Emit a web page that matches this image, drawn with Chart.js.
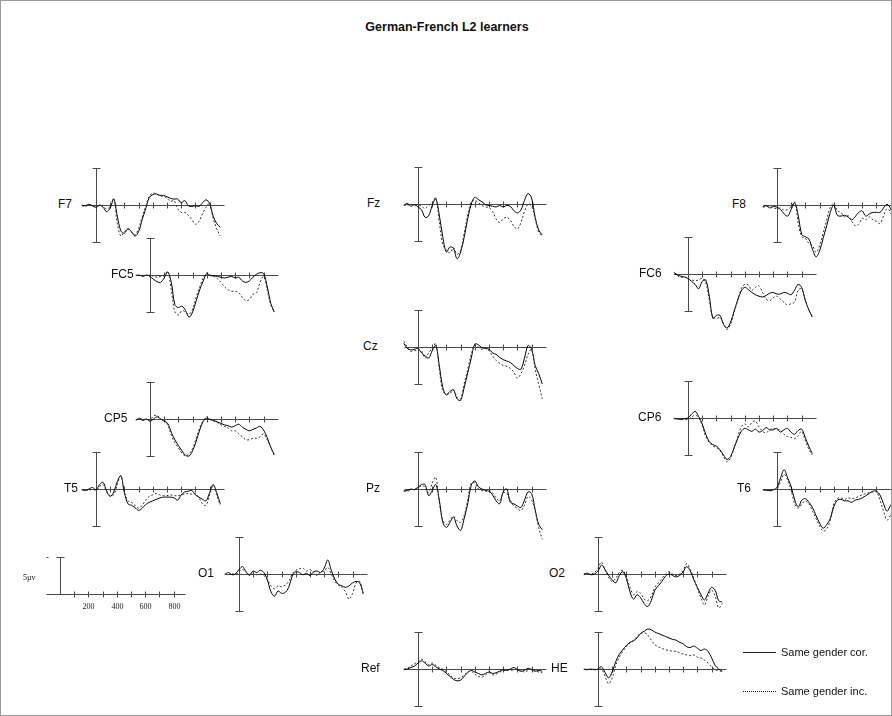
<!DOCTYPE html>
<html>
<head>
<meta charset="utf-8">
<script src="https://cdn.jsdelivr.net/npm/chart.js@4"></script>
<style>
  html, body { margin: 0; padding: 0; background: #fff; }
  #page { position: relative; width: 892px; height: 716px; overflow: hidden; box-sizing: border-box; border: 1px solid #9a9a9a; font-family: "Liberation Sans", Arial, sans-serif; color: #111; }
  #page canvas { position: absolute; }
  .title { position: absolute; left: 0; width: 892px; top: 19px; text-align: center; font-weight: bold; font-size: 12.5px; }
  .lbl { position: absolute; font-size: 12px; line-height: 14px; }
  .unit { position: absolute; font-family: "Liberation Serif", serif; font-size: 8px; }
  .leg { position: absolute; font-size: 11px; line-height: 12px; }
  .legLine { position: absolute; width: 33px; height: 0; }
</style>
</head>
<body>
<div id="page">
  <div class="title">German-French L2 learners</div>
</div>
<script>
// time points (ms) and µV values (negative plotted up)
const times = [-100,-75,-50,-25,0,25,50,75,100,125,150,175,200,225,250,275,300,325,350,375,400,425,450,475,500,525,550,575,600,625,650,675,700,725,750,775,800,825,850,875];

const f7Cor = [0,0.1,-0.1,0.1,0.3,0,0.3,0.9,0.4,-0.8,1.5,3.5,3.8,3.2,3.6,4.2,3.6,2.0,0.5,-1.0,-1.4,-1.5,-1.3,-1.3,-1.1,-0.9,-0.8,-0.8,-0.3,-0.6,0.1,0.2,0.1,0.2,-0.3,-0.7,-0.2,1.5,2.5,3.0];
const f7Inc = [0.1,0.2,0,0.2,0.2,0.1,0.2,0.5,0.2,-0.9,2.5,4.2,3.6,3.3,3.7,4.0,3.2,1.6,0.2,-1.2,-1.6,-1.5,-1.2,-1.2,-0.9,-0.5,-0.6,0.5,1.0,1.0,1.4,2.0,2.6,2.2,1.2,0.3,-0.2,1.8,3.2,4.2];

const fc5Cor = [0.1,0,0.2,0,0.2,0.6,0.9,1.0,0.4,-0.4,1.0,4.0,4.4,4.2,4.8,5.7,5.0,3.5,2.0,0.8,-0.2,0.1,0.1,0.2,0.3,0.4,0.3,0.2,0.4,0.3,0.8,1.0,0.8,0.3,-0.1,-0.3,-0.2,1.5,3.8,5.0];
const fc5Inc = [0,0.1,0,0.1,0,0.2,0.3,0.2,0.1,-0.5,2.0,5.0,5.4,4.8,5.0,5.3,4.6,3.0,1.6,0.4,-0.3,0,0.2,0.5,1.0,1.6,2.0,2.2,2.2,2.4,3.0,3.5,3.3,2.6,2.4,1.0,0.2,2.0,4.0,5.0];

const fzCor = [0.2,-0.1,0.3,0.1,0.4,0.8,1.8,1.6,0.2,-0.7,1.5,4.5,6.5,5.8,6.0,7.4,6.5,4.5,2.0,0,-0.9,-0.6,-0.3,0.1,0.2,0.3,0.4,0.2,0.4,0.2,0.3,0.9,1.2,0.8,-0.5,-1.4,-0.8,1.8,3.5,4.2];
const fzInc = [0.1,0.2,0,0.2,0.1,0.3,0.6,0.2,-0.2,-0.9,2.5,5.5,6.2,6.6,5.9,6.8,6.2,4.0,1.5,-0.3,-0.5,-0.2,0.2,0.4,0.5,1.0,2.0,2.5,2.0,1.8,2.2,3.0,3.4,2.5,1.0,0,0.3,2.0,3.8,4.3];

const f8Cor = [0.2,0.1,0.4,0.2,0.3,0.6,1.2,1.5,0.6,-0.3,1.5,4.0,4.3,4.6,6.0,7.0,6.2,4.5,2.8,1.0,0,1.4,1.5,1.4,1.6,2.0,1.6,1.0,0.8,1.5,1.2,1.0,1.0,1.0,0.4,-0.1,0.5,2.0,3.5,4.5];
const f8Inc = [0.3,0.2,0.2,0.4,0.5,0.4,0.7,0.6,0.2,-0.4,2.5,4.3,4.5,5.2,5.5,6.4,5.5,3.8,2.0,0.3,-0.2,0.8,1.0,1.6,1.4,2.2,2.8,2.6,1.8,2.0,1.6,2.0,2.2,2.5,1.5,0.5,1.0,2.5,3.8,4.8];

const fc6Cor = [-0.2,0.1,0.3,0.4,0.6,1.0,1.4,2.0,1.0,0.8,3.0,6.0,5.6,5.6,6.8,7.3,6.5,5.0,3.5,2.3,1.8,2.1,2.5,2.8,3.0,3.1,2.9,2.6,2.5,2.7,2.7,2.5,2.6,2.8,2.2,1.4,1.8,3.5,4.8,5.8];
const fc6Inc = [0,0.2,0.5,0.4,0.7,0.8,0.9,0.8,0.6,1.2,3.5,5.8,6.0,5.9,6.7,7.5,6.8,5.2,3.6,2.0,1.4,1.5,2.2,1.8,1.6,2.5,3.4,3.6,3.2,3.0,3.4,3.8,4.2,4.0,3.8,2.2,2.0,3.5,4.8,5.8];

const czCor = [-0.5,0.2,0.4,0.3,0.2,0.8,1.2,1.5,0.5,-0.2,2.5,5.5,6.5,6.0,5.8,7.0,7.2,5.5,3.5,1.5,-0.4,-0.3,0.1,0.2,0.3,0.8,1.0,1.4,1.7,1.9,2.1,2.5,2.9,3.0,1.5,-0.2,0.3,2.5,3.6,5.0];
const czInc = [-0.8,0,0.6,0.5,0.4,0.5,1.5,0.8,0.2,-0.5,3.0,6.0,6.3,6.3,5.8,6.8,7.0,5.0,3.0,1.0,-0.3,0,0.3,0.2,0.5,1.2,1.8,2.2,2.5,2.6,2.9,3.4,4.2,3.6,2.5,1.0,0.3,3.0,5.0,7.0];

const cp5Cor = [0.2,-0.1,0.2,0,0.3,0,-0.3,0,0.3,0.6,1.8,2.8,3.6,4.3,4.9,5.0,4.3,3.0,1.5,0.3,-0.1,0.1,0.2,0.4,0.6,0.8,0.9,1.1,0.9,0.7,1.1,1.4,1.6,1.4,1.2,1.0,1.5,2.5,3.8,4.8];
const cp5Inc = [0.1,0,0,0.1,0.1,-0.4,-0.5,0,0.1,0.8,2.2,3.2,3.9,4.6,5.0,4.7,4.0,2.6,1.2,0.2,-0.3,0,0.3,0.5,0.8,1.0,1.2,1.6,1.6,2.0,2.4,2.8,2.8,2.6,2.6,2.4,2.0,2.8,3.8,5.0];

const cp6Cor = [0.1,0.1,0.2,0.1,0,-0.5,-0.9,-0.2,0.8,2.2,3.2,3.6,3.8,4.3,5.0,5.6,5.2,4.0,2.8,1.8,1.4,1.6,1.8,1.5,1.9,1.7,1.3,1.6,1.6,1.4,1.9,1.6,1.4,1.9,2.2,1.7,1.5,2.6,3.8,4.8];
const cp6Inc = [0,0.2,0.1,0.2,0.2,-0.1,-0.4,0,1.0,2.5,3.3,3.8,4.0,4.4,5.2,5.9,5.4,4.0,2.5,1.2,0.8,1.2,0.6,0.4,1.2,1.8,2.0,1.6,1.4,1.6,1.6,2.2,2.5,2.6,2.8,2.4,1.8,3.0,4.2,5.0];

const t5Cor = [0.1,0.2,0,-0.2,0.1,-0.6,-0.9,0.3,1.0,0.4,-1.0,-1.8,0.5,2.0,2.2,2.5,2.9,2.6,2.1,1.8,1.6,1.4,1.2,1.1,1.1,1.1,1.2,1.5,0.8,0.4,0.3,0.2,0.8,1.1,1.4,1.6,0.5,-0.6,0.5,2.0];
const t5Inc = [0.1,0.1,0.2,0,0.2,-0.3,-0.6,0.4,0.9,0.8,-0.6,-1.8,0.4,1.6,1.8,2.2,2.6,2.2,1.5,1.0,0.8,0.6,0.8,0.9,0.9,0.8,0.9,0.9,0.8,0.7,0.6,0.7,0.6,1.2,2.0,2.2,0.8,-0.5,0.8,2.2];

const pzCor = [0.3,0.2,0,0.1,-0.2,-0.6,-0.6,0.9,0.2,-0.6,1.5,4.5,5.2,4.5,3.8,5.0,5.6,4.0,2.0,-0.5,-1.1,-0.3,0,0.2,0.3,0.8,1.6,2.0,0.4,0,1.8,2.0,2.3,2.5,1.5,0.4,0.6,2.8,4.8,5.5];
const pzInc = [0.2,0.3,0.1,0,-0.2,-0.4,-0.3,0.5,-0.8,-1.6,1.8,4.3,4.8,4.2,3.7,4.3,4.5,3.6,1.5,-0.8,-0.8,0,0.2,0.3,0.2,0.5,1.2,1.6,0.5,0.6,1.5,2.3,2.6,2.9,2.2,1.0,1.5,3.0,5.2,6.8];

const t6Cor = [0.1,0.2,0.2,0.1,-0.2,-1.5,-2.6,-1.5,-0.3,1.5,2.4,1.5,1.3,1.8,2.5,3.6,4.6,5.3,4.8,4.0,2.4,1.5,1.4,1.6,1.6,1.8,1.5,1.4,1.2,0.9,0.6,0.3,0.3,0.8,2.0,3.0,2.2,1.8,3.0,4.0];
const t6Inc = [0.1,0.1,0.3,0.1,0,-1.0,-2.0,-1.2,0.2,2.0,2.6,2.0,1.6,2.0,3.0,4.0,5.0,5.7,5.4,4.2,2.0,1.3,1.2,1.4,1.2,1.3,1.2,1.0,0.8,0.6,0.5,0.4,0.3,1.5,3.0,4.2,3.5,2.5,3.5,4.5];

const o1Cor = [0.1,-0.2,0.1,0,-0.6,-1.0,-0.3,0.1,-0.4,-0.2,-0.5,-0.2,0.8,2.4,3.0,2.3,2.6,2.5,1.8,0.3,-0.3,-0.2,0.1,-0.1,0.2,-0.3,-0.4,-0.2,-0.8,-1.9,-0.5,0.7,1.4,1.6,1.8,1.6,1.2,1.0,1.2,2.6];
const o1Inc = [0,0.1,-0.1,0.1,-0.3,-0.6,-0.2,0.2,0,0.1,0,0.2,0.8,1.6,2.0,1.6,1.7,1.5,1.0,0,-0.5,-0.7,-0.8,-0.4,-0.6,-0.2,0.2,-0.3,-0.4,-0.9,0,1.0,1.5,1.8,2.4,3.4,2.6,1.2,1.0,2.8];

const o2Cor = [0,-0.1,0.1,0,-0.4,-1.2,-0.6,0.2,0.8,1.2,0.2,-0.3,0.6,2.4,3.4,2.8,3.2,4.0,4.4,3.6,2.2,1.6,1.0,0.3,0,0.2,0.4,0.2,-0.3,-1.0,-0.4,0.8,1.8,2.8,3.5,2.6,1.8,2.2,3.6,3.8];
const o2Inc = [0.1,0,0,-0.2,-0.8,-1.6,-0.5,0.5,1.0,0.6,-0.2,-0.5,0.4,1.8,2.8,2.4,2.6,3.4,3.6,3.0,1.8,1.2,0.6,0,-0.3,0,0.2,0,-0.5,-1.4,-0.6,0.6,2.0,3.2,4.2,3.0,2.2,3.0,4.6,4.0];

const refCor = [0.1,0,-0.2,-0.4,-0.8,-1.1,-0.8,-0.4,-0.6,-0.3,0,0.2,0.6,1.0,1.4,1.6,1.5,1.0,0.5,0.2,0.4,0.6,0.8,0.6,0.4,0.6,0.5,0.3,0.1,0.2,0,-0.2,0.1,0.3,0.2,-0.1,0.1,0.3,0.2,0.3];
const refInc = [0,-0.1,-0.4,-0.7,-1.0,-1.3,-1.0,-0.6,-0.8,-0.5,-0.2,0,0.4,0.8,1.2,1.3,1.2,0.8,0.4,0.3,0.7,1.0,1.1,0.8,0.5,0.8,0.7,0.4,0.3,0.1,0.2,0.1,0,0.2,0.4,0.2,0,0.2,0.4,0.5];

const heCor = [0,0.1,0,0.1,0,-0.3,0.5,1.2,0.4,-1.0,-2.0,-2.6,-3.2,-3.6,-3.8,-4.2,-4.8,-5.1,-5.4,-5.3,-5.0,-4.8,-4.6,-4.4,-4.2,-4.0,-3.9,-3.6,-3.4,-3.0,-2.9,-3.1,-2.8,-2.5,-2.7,-2.4,-1.5,-0.5,0,0.3];
const heInc = [0.1,0,0.1,0,0.1,0,1.0,2.0,1.2,-0.5,-1.6,-2.4,-3.0,-3.5,-3.9,-4.4,-4.8,-4.9,-4.6,-3.9,-3.3,-3.0,-2.8,-2.6,-2.5,-2.4,-2.4,-2.2,-2.0,-1.9,-1.8,-1.9,-1.6,-1.5,-1.2,-0.8,-0.3,0.1,0.2,0.4];

// scale bar
const scaleTicks = [200, 400, 600, 800];
const axisTicks = [100, 200, 300, 400, 500, 600, 700, 800];
const seriesNames = ['Same gender cor.', 'Same gender inc.'];

// layout
const PX_MS = 0.142, PX_UV = 7.4;
const PAD_L = 19, PAD_T = 52, CW = 152, CH = 120;

const panels = [
  { name: 'F7',  ax: 95,  base: 204, lx: 57,  cor: f7Cor,  inc: f7Inc },
  { name: 'FC5', ax: 149, base: 274, lx: 110, cor: fc5Cor, inc: fc5Inc },
  { name: 'Fz',  ax: 417, base: 203, lx: 366, cor: fzCor,  inc: fzInc },
  { name: 'F8',  ax: 776, base: 204, lx: 731, cor: f8Cor,  inc: f8Inc },
  { name: 'FC6', ax: 687, base: 273, lx: 638, cor: fc6Cor, inc: fc6Inc },
  { name: 'Cz',  ax: 417, base: 346, lx: 362, cor: czCor,  inc: czInc },
  { name: 'CP5', ax: 149, base: 418, lx: 103, cor: cp5Cor, inc: cp5Inc },
  { name: 'CP6', ax: 687, base: 417, lx: 637, cor: cp6Cor, inc: cp6Inc },
  { name: 'T5',  ax: 95,  base: 488, lx: 63,  cor: t5Cor,  inc: t5Inc },
  { name: 'Pz',  ax: 417, base: 488, lx: 365, cor: pzCor,  inc: pzInc },
  { name: 'T6',  ax: 776, base: 488, lx: 736, cor: t6Cor,  inc: t6Inc },
  { name: 'O1',  ax: 238, base: 573, lx: 197, cor: o1Cor,  inc: o1Inc },
  { name: 'O2',  ax: 597, base: 573, lx: 548, cor: o2Cor,  inc: o2Inc },
  { name: 'Ref', ax: 417, base: 668, lx: 360, cor: refCor, inc: refInc },
  { name: 'HE',  ax: 597, base: 668, lx: 550, cor: heCor,  inc: heInc }
];

const page = document.getElementById('page');

const erpAxes = {
  id: 'erpAxes',
  beforeDatasetsDraw(chart, args, opts) {
    const { ctx, scales: { x, y } } = chart;
    const px = v => Math.round(x.getPixelForValue(v)) + 0.5;
    const py = v => Math.round(y.getPixelForValue(v)) + 0.5;
    ctx.save();
    ctx.strokeStyle = '#4a4a4a';
    ctx.lineWidth = 1;
    ctx.beginPath();
    // vertical axis with caps
    const x0 = px(0);
    ctx.moveTo(x0, py(opts.yTop));
    ctx.lineTo(x0, py(opts.yBottom));
    ctx.moveTo(x0 - 4, py(opts.yTop));
    ctx.lineTo(x0 + 4, py(opts.yTop));
    if (opts.bottomCap) {
      ctx.moveTo(x0 - 4, py(opts.yBottom));
      ctx.lineTo(x0 + 4, py(opts.yBottom));
    }
    // time axis
    const y0 = py(0);
    ctx.moveTo(px(-100), y0);
    ctx.lineTo(px(opts.xEnd), y0);
    axisTicks.forEach(t => {
      ctx.moveTo(px(t), y0 - 3);
      ctx.lineTo(px(t), y0 + 3);
    });
    ctx.stroke();
    if (opts.labels) {
      ctx.fillStyle = '#222';
      ctx.font = '8px "Liberation Serif", serif';
      ctx.textAlign = 'center';
      ctx.textBaseline = 'top';
      opts.labels.forEach(t => ctx.fillText(String(t), px(t), y0 + 8));
      ctx.beginPath();
      ctx.moveTo(px(-100), py(opts.yTop));
      ctx.lineTo(px(-85), py(opts.yTop));
      ctx.stroke();
    }
    ctx.restore();
  }
};

function makeChart(ax, base, datasets, axOpts) {
  const cv = document.createElement('canvas');
  const left = ax - PAD_L, top = base - PAD_T;
  cv.width = CW; cv.height = CH;
  cv.style.left = left + 'px';
  cv.style.top = top + 'px';
  cv.style.width = CW + 'px';
  cv.style.height = CH + 'px';
  page.appendChild(cv);
  const xMin = -PAD_L / PX_MS, xMax = (CW - PAD_L) / PX_MS;
  const yMin = -PAD_T / PX_UV, yMax = (CH - PAD_T) / PX_UV;
  return new Chart(cv.getContext('2d'), {
    type: 'line',
    data: { datasets: datasets },
    options: {
      responsive: false,
      animation: false,
      events: [],
      layout: { padding: 0 },
      clip: false,
      elements: { point: { radius: 0 }, line: { tension: 0.35, borderWidth: 1 } },
      scales: {
        x: { type: 'linear', min: xMin, max: xMax, display: false },
        y: { type: 'linear', min: yMin, max: yMax, reverse: true, display: false }
      },
      plugins: { legend: { display: false }, tooltip: { enabled: false }, erpAxes: axOpts }
    },
    plugins: [erpAxes]
  });
}

const toXY = vals => vals.map((v, i) => ({ x: times[i], y: v }));

panels.forEach(p => {
  makeChart(p.ax, p.base, [
    { label: seriesNames[1], data: toXY(p.inc), borderColor: '#333', borderDash: [2, 2], fill: false },
    { label: seriesNames[0], data: toXY(p.cor), borderColor: '#000', fill: false }
  ], { yTop: -5, yBottom: 5, bottomCap: true, xEnd: 900 });
  const l = document.createElement('div');
  l.className = 'lbl';
  l.textContent = p.name;
  l.style.left = p.lx + 'px';
  l.style.top = (p.base - 8) + 'px';
  page.appendChild(l);
});

// calibration panel
makeChart(59, 593, [], { yTop: -5, yBottom: 0, bottomCap: false, xEnd: 880, labels: scaleTicks });
const u = document.createElement('div');
u.className = 'unit';
u.textContent = '5µv';
u.style.left = '22px';
u.style.top = '572px';
page.appendChild(u);

// legend
[[651, 'solid'], [690, 'dotted']].forEach((row, i) => {
  const ln = document.createElement('div');
  ln.className = 'legLine';
  ln.style.left = '742px';
  ln.style.top = row[0] + 'px';
  ln.style.borderTop = '1px ' + row[1] + ' #222';
  page.appendChild(ln);
  const t = document.createElement('div');
  t.className = 'leg';
  t.textContent = seriesNames[i];
  t.style.left = '780px';
  t.style.top = (row[0] - 6) + 'px';
  page.appendChild(t);
});
</script>
</body>
</html>
